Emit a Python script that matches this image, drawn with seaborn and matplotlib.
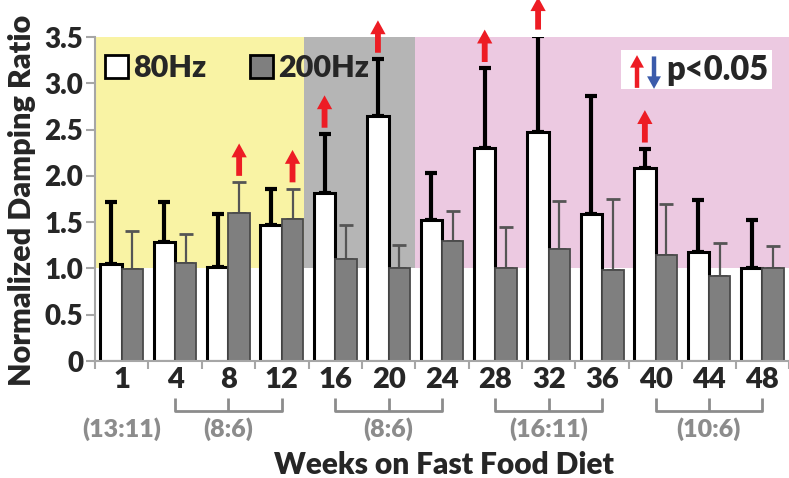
import numpy as np
import pandas as pd
import matplotlib
matplotlib.use("Agg")
import matplotlib.pyplot as plt
import seaborn as sns
from matplotlib.patches import Patch, Rectangle
from matplotlib.transforms import blended_transform_factory

# ---------------- data ----------------
weeks = ["1", "4", "8", "12", "16", "20", "24", "28", "32", "36", "40", "44", "48"]
ratio_80 = [1.05, 1.29, 1.02, 1.47, 1.81, 2.65, 1.52, 2.30, 2.47, 1.59, 2.09, 1.18, 1.01]
sd_80 = [0.67, 0.43, 0.57, 0.39, 0.64, 0.61, 0.51, 0.86, 1.04, 1.27, 0.20, 0.56, 0.51]
ratio_200 = [0.99, 1.06, 1.60, 1.53, 1.10, 1.00, 1.30, 1.00, 1.21, 0.98, 1.14, 0.92, 1.00]
sd_200 = [0.41, 0.31, 0.33, 0.33, 0.37, 0.25, 0.32, 0.45, 0.52, 0.77, 0.56, 0.35, 0.24]
series = ["80Hz", "200Hz"]
sig_up_80 = ["16", "20", "28", "32", "40"]
sig_up_200 = ["8", "12"]
# background phases: (first week, last week, colour)
phases = [("1", "12", "#f9f3a4"), ("16", "20", "#b5b5b5"), ("24", "48", "#ecc9e1")]
# group size labels: (label, first week, last week)
groups = [("(13:11)", "1", "1"), ("(8:6)", "4", "12"), ("(8:6)", "16", "24"),
          ("(16:11)", "28", "36"), ("(10:6)", "40", "48")]

df = pd.DataFrame({
    "week": weeks * 2,
    "freq": ["80Hz"] * len(weeks) + ["200Hz"] * len(weeks),
    "ratio": ratio_80 + ratio_200,
})

# ---------------- style ----------------
sns.set_style("white")
plt.rcParams["font.family"] = ["Lato", "DejaVu Sans"]
BW = "heavy"
plt.rcParams["font.weight"] = BW

W, H = 789, 478
fig = plt.figure(figsize=(W / 100, H / 100), dpi=100)
ax = fig.add_axes([95 / W, 1 - 361 / H, 694 / W, 324 / H])

RED = "#ed1c24"
BLUE = "#3b5bab"
GREY_TXT = "#8c8c8c"
AX_GREY = "#a6a6a6"

sns.barplot(data=df, x="week", y="ratio", hue="freq", order=weeks, hue_order=series,
            palette={"80Hz": "white", "200Hz": "#7f7f7f"}, errorbar=None,
            width=0.8, legend=False, ax=ax, zorder=3)

ax.set_xlim(-0.5, len(weeks) - 0.5)
ax.set_ylim(0, 3.5)

# backgrounds
for w0, w1, col in phases:
    i0, i1 = weeks.index(w0), weeks.index(w1)
    x0 = i0 - 0.5 if i0 > 0 else -0.5
    x0 = x0 - 0.08 if i0 > 0 and col == "#b5b5b5" else x0
    ax.add_patch(Rectangle((x0, 1.0), (i1 + 0.5) - x0, 2.5, facecolor=col,
                           edgecolor="none", zorder=0))

bars80, bars200 = ax.containers[0], ax.containers[1]
for b in bars80:
    b.set_edgecolor("black")
    b.set_linewidth(2.2)
for b in bars200:
    b.set_edgecolor("#4a4a4a")
    b.set_linewidth(1.3)

x80 = [b.get_x() + b.get_width() / 2 for b in bars80]
x200 = [b.get_x() + b.get_width() / 2 for b in bars200]
h80 = [b.get_height() for b in bars80]
h200 = [b.get_height() for b in bars200]

ax.errorbar(x80, h80, yerr=[np.zeros(len(sd_80)), sd_80], fmt="none", ecolor="black",
            elinewidth=3, capsize=4, capthick=3, zorder=2)
ax.errorbar(x200, h200, yerr=[np.zeros(len(sd_200)), sd_200], fmt="none", ecolor="#555555",
            elinewidth=1.6, capsize=5, capthick=2, zorder=2)


def up_arrow(x, y0, y1, coords="data", w=4.2, hw=11, hl=10):
    ax.annotate("", xy=(x, y1), xytext=(x, y0), xycoords=coords, textcoords=coords,
                arrowprops=dict(width=w, headwidth=hw, headlength=hl, color=RED,
                                shrink=0, lw=0),
                annotation_clip=False, zorder=6)


for wk in sig_up_80:
    i = weeks.index(wk)
    top = h80[i] + sd_80[i]
    up_arrow(x80[i], top + 0.07, top + 0.42)
for wk in sig_up_200:
    i = weeks.index(wk)
    top = h200[i] + sd_200[i]
    up_arrow(x200[i], top + 0.07, top + 0.42)

# legend
handles = [Patch(facecolor="white", edgecolor="black", linewidth=2),
           Patch(facecolor="#7f7f7f", edgecolor="black", linewidth=2)]
ax.legend(handles=handles, labels=series, ncol=2, loc="upper left",
          bbox_to_anchor=(-0.003, 0.985), frameon=False, borderaxespad=0.2, borderpad=0.2,
          handlelength=0.75, handleheight=0.75, handletextpad=0.15, columnspacing=1.45,
          prop=dict(weight=BW, size=22))

# p<0.05 key
ax.add_patch(Rectangle((0.758, 0.8395), 0.2175, 0.1205, transform=ax.transAxes,
                       facecolor="white", edgecolor="none", zorder=5))
up_arrow(0.781, 0.843, 0.944, coords="axes fraction", w=3.2, hw=10, hl=9)
ax.annotate("", xy=(0.8055, 0.84), xytext=(0.8055, 0.94), xycoords="axes fraction",
            textcoords="axes fraction",
            arrowprops=dict(width=3.2, headwidth=10, headlength=9, color=BLUE, shrink=0, lw=0),
            zorder=6)
ax.text(0.823, 0.898, "p<0.05", transform=ax.transAxes, ha="left", va="center",
        fontsize=23.5, fontweight=BW, zorder=7)

# axes styling
for s in ["top", "right"]:
    ax.spines[s].set_visible(False)
for s in ["left", "bottom"]:
    ax.spines[s].set_color(AX_GREY)
    ax.spines[s].set_linewidth(1.5)
    ax.spines[s].set_zorder(4)

ax.set_yticks(np.arange(0, 3.51, 0.5))
ax.set_yticklabels(["0"] + [f"{v:.1f}" for v in np.arange(0.5, 3.51, 0.5)],
                   fontsize=20, fontweight=BW)
ax.tick_params(axis="y", which="major", left=True, length=6.5, width=1.5, color=AX_GREY, pad=2)
ax.set_xticks(range(len(weeks)))
ax.set_xticklabels(weeks, fontsize=21, fontweight=BW)
ax.tick_params(axis="x", which="major", length=0, pad=4)
ax.set_xticks(np.arange(-0.5, len(weeks), 1), minor=True)
ax.tick_params(axis="x", which="minor", bottom=True, length=5.5, width=1.5, color=AX_GREY)
ax.set_xlabel("")
ax.set_ylabel("")

# group brackets
tr = blended_transform_factory(ax.transData, ax.transAxes)
for lab, w0, w1 in groups:
    i0, i1 = weeks.index(w0), weeks.index(w1)
    mid = (i0 + i1) / 2
    if i1 > i0:
        ax.plot([i0, i0, i1, i1], [-0.114, -0.154, -0.154, -0.114], color=GREY_TXT, lw=2,
                transform=tr, clip_on=False, solid_capstyle="butt")
        ax.plot([mid, mid], [-0.154, -0.114], color=GREY_TXT, lw=2, transform=tr,
                clip_on=False, solid_capstyle="butt")
    ax.text(mid, -0.21, lab, transform=tr, ha="center", va="center", fontsize=18,
            fontweight=BW, color=GREY_TXT)

fig.text(444 / W, 1 - 465 / H, "Weeks on Fast Food Diet", ha="center", va="center",
         fontsize=21.5, fontweight=BW)
fig.text(22 / W, 1 - 200 / H, "Normalized Damping Ratio", ha="center", va="center",
         rotation=90, fontsize=22, fontweight=BW)

fig.savefig("out.png", dpi=100)
